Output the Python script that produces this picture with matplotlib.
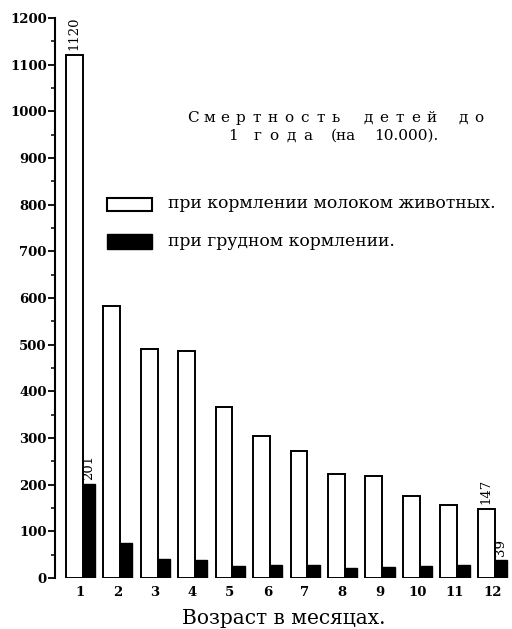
import numpy as np
import matplotlib
matplotlib.use("Agg")
import matplotlib.pyplot as plt
from matplotlib.patches import Rectangle

# infant deaths per 10,000, by month of age
months = list(range(1, 13))
animal_milk = [1120, 583, 490, 486, 366, 305, 272, 222, 219, 176, 157, 147]
breast_fed = [201, 75, 40, 38, 26, 27, 28, 21, 23, 25, 28, 39]
labelled_white = {1: 1120, 12: 147}
labelled_black = {1: 201, 12: 39}

title_1 = "Смертность детей до"
title_2 = ["1", "года", "(на", "10.000)."]
legend_labels = ["при кормлении молоком животных.", "при грудном кормлении."]

plt.rcParams["font.family"] = "DejaVu Serif"

W, H = 512, 629
fig = plt.figure(figsize=(W / 100, H / 100), dpi=100)
ax = fig.add_axes([55 / W, 51 / H, 1 - 55 / W, 560 / H])


def px(x, y):
    # pixel position (from top-left) -> figure fraction
    return x / W, 1 - y / H


def spaced(word, x0, y, pitch, size=11):
    # set a word letter by letter at a fixed pitch (x0 = first letter centre)
    for k, ch in enumerate(word):
        if ch != " ":
            fig.text(*px(x0 + k * pitch, y), ch, ha="center", va="center",
                     fontsize=size)


x = np.array(months)
w_white, w_black = 0.45, 0.33
ax.bar(x - 0.38, animal_milk, w_white, align="edge", color="white",
       edgecolor="black", linewidth=1.4)
ax.bar(x + 0.07, breast_fed, w_black, align="edge", color="black",
       edgecolor="black", linewidth=1.0)

for m, v in labelled_white.items():
    ax.text(m - 0.38 + w_white / 2, v + 12, str(v), rotation=90, ha="center",
            va="bottom", fontsize=9.5)
for m, v in labelled_black.items():
    ax.text(m + 0.07 + w_black / 2, v + 8, str(v), rotation=90, ha="center",
            va="bottom", fontsize=9.5)

ax.set_xlim(0.333, 12.53)
ax.set_ylim(0, 1200)
ax.set_yticks(range(0, 1201, 100))
ax.set_yticks(range(50, 1200, 100), minor=True)
ax.set_xticks(months)
ax.tick_params(axis="y", which="major", length=5, width=1.3, pad=1,
               labelsize=9.5)
ax.tick_params(axis="y", which="minor", length=3, width=1.1)
ax.tick_params(axis="x", length=0, pad=6, labelsize=9.5)
for lab in ax.get_yticklabels() + ax.get_xticklabels():
    lab.set_fontweight("bold")
for s in ["top", "right", "bottom"]:
    ax.spines[s].set_visible(False)
ax.spines["left"].set_linewidth(1.5)
ax.set_xlabel("Возраст в месяцах.", fontsize=14.5, labelpad=7)

# two-line title, letter-spaced
spaced(title_1, 193, 118, 15.9)
fig.text(*px(233, 136), title_2[0], ha="center", va="center", fontsize=11)
spaced(title_2[1], 257, 136, 17)
fig.text(*px(331, 136), title_2[2], ha="left", va="center", fontsize=11)
fig.text(*px(374, 136), title_2[3], ha="left", va="center", fontsize=11)

# legend drawn by hand
fig.patches.append(Rectangle(px(107, 211), 45 / W, 13 / H,
                             transform=fig.transFigure, facecolor="white",
                             edgecolor="black", linewidth=1.5))
fig.patches.append(Rectangle(px(107, 249), 45 / W, 15 / H,
                             transform=fig.transFigure, facecolor="black",
                             edgecolor="black", linewidth=1.0))
fig.text(*px(168, 204), legend_labels[0], ha="left", va="center",
         fontsize=12.4)
fig.text(*px(168, 242), legend_labels[1], ha="left", va="center",
         fontsize=12.4)

fig.savefig("out.png", dpi=100)
